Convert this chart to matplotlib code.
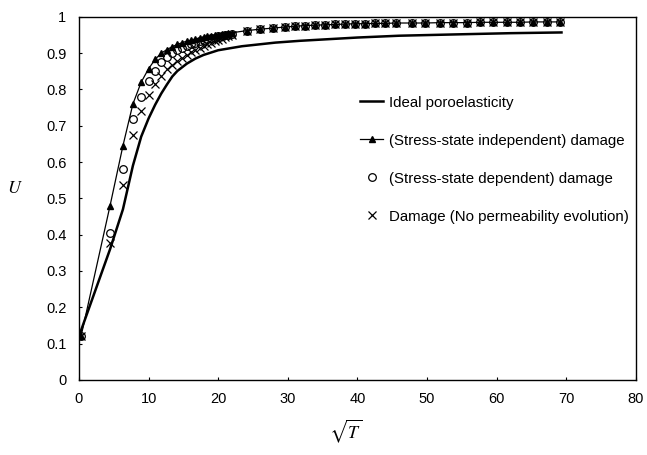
import numpy as np
import matplotlib
matplotlib.use("Agg")
import matplotlib.pyplot as plt

plt.rcParams['font.family'] = ['Liberation Sans', 'DejaVu Sans']
plt.rcParams['mathtext.fontset'] = 'stix'

# sqrt(T) positions of the damage results
x_early = [0.3, 4.47, 6.32, 7.75, 8.94, 10.0, 10.95, 11.83, 12.65, 13.42, 14.14, 14.83,
           15.49, 16.12, 16.73, 17.32, 17.89, 18.44, 18.97, 19.49, 20.0, 20.49, 20.98,
           21.45, 21.91]
x_late = [24.1, 26.0, 27.9, 29.6, 31.0, 32.5, 33.9, 35.3, 36.8, 38.2, 39.7, 41.1, 42.5,
          44.0, 45.6, 47.8, 49.7, 51.9, 53.7, 55.7, 57.6, 59.5, 61.5, 63.4, 65.2, 67.2, 69.1]

u_indep = [0.12, 0.48, 0.645, 0.76, 0.82, 0.857, 0.883, 0.90, 0.91, 0.918, 0.924, 0.929,
           0.933, 0.936, 0.939, 0.942, 0.944, 0.946, 0.948, 0.95, 0.951, 0.953, 0.954,
           0.955, 0.956]
u_dep = [0.12, 0.405, 0.58, 0.718, 0.78, 0.823, 0.852, 0.875, 0.89, 0.90, 0.908, 0.915,
         0.92, 0.925, 0.929, 0.933, 0.936, 0.939, 0.941, 0.943, 0.946, 0.948, 0.95,
         0.951, 0.953]
u_noperm = [0.12, 0.378, 0.538, 0.675, 0.742, 0.785, 0.815, 0.838, 0.855, 0.868, 0.879,
            0.888, 0.896, 0.903, 0.909, 0.915, 0.92, 0.925, 0.929, 0.933, 0.937, 0.94,
            0.944, 0.947, 0.95]
u_late = [0.962, 0.966, 0.969, 0.972, 0.974, 0.976, 0.977, 0.978, 0.979, 0.98, 0.981,
          0.981, 0.982, 0.982, 0.983, 0.983, 0.983, 0.984, 0.984, 0.984, 0.985, 0.985,
          0.985, 0.985, 0.986, 0.986, 0.986]

# ideal poroelastic curve
x_ideal = [0, 4.47, 6.32, 7.75, 8.94, 10.0, 10.95, 11.83, 12.65, 13.42, 14.14, 15.49,
           16.73, 17.89, 20.0, 23.4, 28.2, 31.75, 40, 46, 55, 62, 69.3]
u_ideal = [0.12, 0.36, 0.47, 0.59, 0.67, 0.72, 0.758, 0.789, 0.814, 0.836, 0.851, 0.871,
           0.885, 0.895, 0.908, 0.919, 0.929, 0.934, 0.943, 0.948, 0.952, 0.955, 0.957]

x_all = x_early + x_late

fig = plt.figure(figsize=(6.47, 4.55), dpi=100)
ax = fig.add_axes([0.122, 0.165, 0.861, 0.798])

ax.plot(x_ideal, u_ideal, color='black', lw=1.8, label='Ideal poroelasticity')
ax.plot(x_all, u_indep + u_late, color='black', lw=0.9, marker='^', ms=5,
        label='(Stress-state independent) damage')
ax.plot(x_all, u_dep + u_late, ls='none', marker='o', ms=5.5, mfc='none', mec='black',
        mew=0.9, label='(Stress-state dependent) damage')
ax.plot(x_all, u_noperm + u_late, ls='none', marker='x', ms=6, color='black',
        mew=0.9, label='Damage (No permeability evolution)')

ax.set_xlim(0, 80)
ax.set_ylim(0, 1)
ax.set_xticks(np.arange(0, 81, 10))
ax.set_yticks(np.arange(0, 1.01, 0.1))
ax.set_yticklabels(['0', '0.1', '0.2', '0.3', '0.4', '0.5', '0.6', '0.7', '0.8', '0.9', '1'])
ax.tick_params(axis='both', direction='in', length=2, labelsize=10.5, pad=9)

for s in ax.spines.values():
    s.set_linewidth(1.0)

ax.set_xlabel(r'$\sqrt{T}$', fontsize=13)
ax.xaxis.set_label_coords(0.478, -0.105)
ax.set_ylabel(r'$U$', fontsize=13, rotation=0)
ax.yaxis.set_label_coords(-0.115, 0.505)

ax.legend(loc='upper left', bbox_to_anchor=(0.481, 0.82), frameon=False, fontsize=10.8,
          labelspacing=1.6, handlelength=1.5, handletextpad=0.4)

fig.savefig('out.png', dpi=100)
